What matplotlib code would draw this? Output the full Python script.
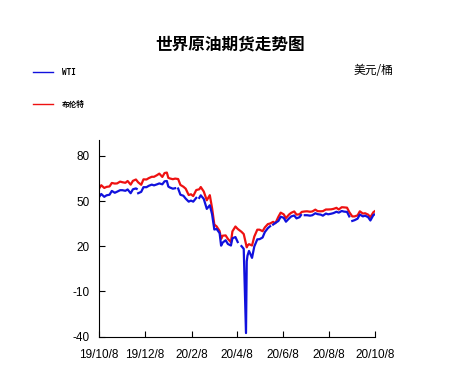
import matplotlib
matplotlib.use('Agg')
import matplotlib.pyplot as plt
import numpy as np
import pandas as pd

plt.rcParams['font.family'] = ['Liberation Sans', 'Noto Sans CJK SC', 'DejaVu Sans']
plt.rcParams['axes.unicode_minus'] = False

# Brent front-month close (USD/bbl)
brent_dates = ['2019-10-08', '2019-10-11', '2019-10-15', '2019-10-18', '2019-10-22', '2019-10-25',
               '2019-10-29', '2019-11-01', '2019-11-05', '2019-11-08', '2019-11-12', '2019-11-15',
               '2019-11-19', '2019-11-22', '2019-11-26', '2019-11-29', '2019-12-03', '2019-12-06',
               '2019-12-10', '2019-12-13', '2019-12-17', '2019-12-20', '2019-12-24', '2019-12-27',
               '2019-12-31', '2020-01-03', '2020-01-06', '2020-01-08', '2020-01-10', '2020-01-14',
               '2020-01-17', '2020-01-21', '2020-01-24', '2020-01-28', '2020-01-31', '2020-02-04',
               '2020-02-07', '2020-02-10', '2020-02-14', '2020-02-18', '2020-02-20', '2020-02-24',
               '2020-02-28', '2020-03-03', '2020-03-06', '2020-03-09', '2020-03-12', '2020-03-16',
               '2020-03-18', '2020-03-20', '2020-03-24', '2020-03-27', '2020-03-31', '2020-04-02',
               '2020-04-06', '2020-04-09', '2020-04-14', '2020-04-17', '2020-04-21', '2020-04-22',
               '2020-04-24', '2020-04-28', '2020-05-01', '2020-05-05', '2020-05-08', '2020-05-12',
               '2020-05-15', '2020-05-19', '2020-05-22', '2020-05-26', '2020-05-29', '2020-06-02',
               '2020-06-05', '2020-06-09', '2020-06-12', '2020-06-16', '2020-06-19', '2020-06-23',
               '2020-06-26', '2020-06-30', '2020-07-03', '2020-07-07', '2020-07-10', '2020-07-14',
               '2020-07-17', '2020-07-21', '2020-07-24', '2020-07-28', '2020-07-31', '2020-08-04',
               '2020-08-07', '2020-08-11', '2020-08-14', '2020-08-18', '2020-08-21', '2020-08-25',
               '2020-08-28', '2020-09-01', '2020-09-04', '2020-09-08', '2020-09-11', '2020-09-15',
               '2020-09-18', '2020-09-22', '2020-09-25', '2020-09-29', '2020-10-02', '2020-10-06',
               '2020-10-08']
brent = [58.2, 60.5, 58.7, 59.4, 59.7, 62.0,
         61.6, 61.7, 62.9, 62.5, 62.1, 63.3,
         60.9, 63.4, 64.3, 62.4, 60.8, 64.4,
         64.3, 65.2, 66.1, 66.1, 67.2, 68.2,
         66.0, 68.6, 68.9, 65.4, 65.0, 64.5,
         64.9, 64.6, 60.7, 59.5, 58.2, 54.0,
         54.5, 53.3, 57.3, 57.8, 59.3, 56.3,
         50.5, 53.9, 45.3, 34.4, 33.2, 30.1,
         24.9, 27.0, 27.2, 24.9, 22.7, 29.9,
         33.1, 31.5, 29.6, 28.1, 19.3, 20.4,
         21.4, 20.5, 26.4, 31.0, 31.0, 30.0,
         32.5, 34.7, 35.1, 36.2, 35.3, 39.6,
         42.3, 41.2, 38.7, 41.0, 42.2, 43.1,
         41.0, 41.2, 42.8, 43.1, 43.2, 42.9,
         43.1, 44.3, 43.3, 43.2, 43.3, 44.4,
         44.4, 44.5, 44.8, 45.5, 44.4, 45.9,
         45.8, 45.6, 42.7, 39.8, 39.8, 40.5,
         43.2, 41.7, 41.9, 41.0, 39.3, 42.6,
         43.3]

# WTI front-month close (USD/bbl); NaN = US holiday
wti_dates = ['2019-10-08', '2019-10-11', '2019-10-15', '2019-10-18', '2019-10-22', '2019-10-25',
             '2019-10-29', '2019-11-01', '2019-11-05', '2019-11-08', '2019-11-12', '2019-11-15',
             '2019-11-19', '2019-11-22', '2019-11-26', '2019-11-27', '2019-11-28', '2019-11-29',
             '2019-12-03', '2019-12-06', '2019-12-10', '2019-12-13', '2019-12-17', '2019-12-20',
             '2019-12-24', '2019-12-27', '2019-12-31', '2020-01-03', '2020-01-06', '2020-01-08',
             '2020-01-10', '2020-01-14', '2020-01-17', '2020-01-20', '2020-01-21', '2020-01-24',
             '2020-01-28', '2020-01-31', '2020-02-04', '2020-02-07', '2020-02-10', '2020-02-14',
             '2020-02-17', '2020-02-18', '2020-02-20', '2020-02-24', '2020-02-28', '2020-03-03',
             '2020-03-06', '2020-03-09', '2020-03-12', '2020-03-16', '2020-03-18', '2020-03-20',
             '2020-03-24', '2020-03-27', '2020-03-31', '2020-04-02', '2020-04-06', '2020-04-09',
             '2020-04-10', '2020-04-14', '2020-04-17', '2020-04-20', '2020-04-21', '2020-04-22',
             '2020-04-24', '2020-04-28', '2020-05-01', '2020-05-05', '2020-05-08', '2020-05-12',
             '2020-05-15', '2020-05-19', '2020-05-22', '2020-05-25', '2020-05-26', '2020-05-29',
             '2020-06-02', '2020-06-05', '2020-06-09', '2020-06-12', '2020-06-16', '2020-06-19',
             '2020-06-23', '2020-06-26', '2020-06-30', '2020-07-02', '2020-07-03', '2020-07-07',
             '2020-07-10', '2020-07-14', '2020-07-17', '2020-07-21', '2020-07-24', '2020-07-28',
             '2020-07-31', '2020-08-04', '2020-08-07', '2020-08-11', '2020-08-14', '2020-08-18',
             '2020-08-21', '2020-08-25', '2020-08-28', '2020-09-01', '2020-09-04', '2020-09-07',
             '2020-09-08', '2020-09-11', '2020-09-15', '2020-09-18', '2020-09-22', '2020-09-25',
             '2020-09-29', '2020-10-02', '2020-10-06', '2020-10-08']
wti = [52.6, 54.7, 52.8, 53.8, 54.2, 56.7,
       55.5, 56.2, 57.2, 57.2, 56.8, 57.7,
       55.2, 57.8, 58.4, 58.1, np.nan, 55.2,
       56.1, 59.2, 59.2, 60.1, 60.9, 60.4,
       61.1, 61.7, 61.1, 63.1, 63.3, 59.6,
       59.0, 58.2, 58.5, np.nan, 58.3, 54.2,
       53.5, 51.6, 49.6, 50.3, 49.6, 52.1,
       np.nan, 52.1, 53.8, 51.4, 44.8, 47.2,
       41.3, 31.1, 31.5, 28.7, 20.4, 22.4,
       24.0, 21.5, 20.5, 25.3, 26.1, 22.8,
       np.nan, 20.1, 18.3, -37.6, 10.0, 13.8,
       16.9, 12.3, 19.8, 24.6, 24.7, 25.8,
       29.4, 32.0, 33.3, np.nan, 34.4, 35.5,
       36.8, 39.6, 38.9, 36.3, 38.4, 39.8,
       40.4, 38.5, 39.3, 40.7, np.nan, 40.6,
       40.6, 40.3, 40.6, 41.9, 41.3, 41.0,
       40.3, 41.7, 41.2, 41.6, 42.0, 42.9,
       42.3, 43.4, 43.0, 42.8, 39.8, np.nan,
       36.8, 37.3, 38.3, 41.1, 39.8, 40.3,
       39.3, 37.1, 40.7, 41.2]

yticks = [-40, -10, 20, 50, 80]
xtick_dates = ['2019-10-08', '2019-12-08', '2020-02-08', '2020-04-08',
               '2020-06-08', '2020-08-08', '2020-10-08']
xtick_labels = ['19/10/8', '19/12/8', '20/2/8', '20/4/8', '20/6/8', '20/8/8', '20/10/8']

fig = plt.figure(figsize=(4.6, 3.9), dpi=100)
ax = fig.add_axes([0.2152, 0.1367, 0.5998, 0.5043])

ax.plot(pd.to_datetime(brent_dates), brent, color='#ee1111', lw=1.6)
ax.plot(pd.to_datetime(wti_dates), wti, color='#1111dd', lw=1.6)

ax.set_ylim(-40, 90.5)
ax.set_xlim(pd.Timestamp('2019-10-08'), pd.Timestamp('2020-10-08'))
ax.set_yticks(yticks)
ax.set_xticks(pd.to_datetime(xtick_dates))
ax.set_xticklabels(xtick_labels)
ax.tick_params(direction='in', length=4, width=0.8, labelsize=8.5, colors='black')
ax.tick_params(axis='x', pad=9)
ax.tick_params(axis='y', pad=7)
for s in ['top', 'right']:
    ax.spines[s].set_visible(False)
for s in ['left', 'bottom']:
    ax.spines[s].set_linewidth(0.8)

# title and unit
fig.text(0.5, 0.887, '世界原油期货走势图', ha='center', va='center', fontsize=12,
         fontweight='bold', family=['Noto Sans CJK SC'])
fig.text(0.812, 0.82, '美元/桶', ha='center', va='center', fontsize=8.5,
         family=['Noto Sans CJK SC'])

# manual legend
fig.lines.append(plt.Line2D([0.072, 0.115], [0.815, 0.815], color='#1111dd', lw=1.0,
                            transform=fig.transFigure))
fig.text(0.135, 0.815, 'WTI', ha='left', va='center', fontsize=5.5, fontweight='bold',
         family=['DejaVu Sans Mono'])
fig.lines.append(plt.Line2D([0.072, 0.115], [0.733, 0.733], color='#ee1111', lw=1.0,
                            transform=fig.transFigure))
fig.text(0.135, 0.733, '布伦特', ha='left', va='center', fontsize=5.5, fontweight='bold',
         family=['Noto Sans CJK SC'])

fig.savefig('out.png', dpi=100)
